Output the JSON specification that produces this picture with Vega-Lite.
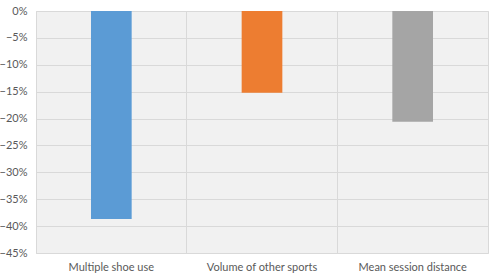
{
  "$schema": "https://vega.github.io/schema/vega-lite/v6.json",
  "autosize": {"type": "none"},
  "padding": {"left": 36, "top": 11, "right": 12, "bottom": 26},
  "width": 452,
  "height": 242,
  "background": "white",
  "config": {
    "view": {"stroke": "#d9d9d9", "fill": "#f1f1f1"},
    "font": "Lato"
  },
  "data": {
    "values": [
      {"factor": "Multiple shoe use", "change": -0.387},
      {"factor": "Volume of other sports", "change": -0.152},
      {"factor": "Mean session distance", "change": -0.206}
    ]
  },
  "mark": {"type": "bar", "width": {"band": 0.27}},
  "encoding": {
    "x": {
      "field": "factor",
      "type": "nominal",
      "sort": null,
      "scale": {"paddingInner": 0, "paddingOuter": 0},
      "axis": {
        "title": null,
        "labelAngle": 0,
        "domain": false,
        "ticks": false,
        "grid": true,
        "bandPosition": 0,
        "gridColor": "#d9d9d9",
        "labelColor": "#595959",
        "labelFontSize": 11,
        "labelPadding": 8
      }
    },
    "y": {
      "field": "change",
      "type": "quantitative",
      "scale": {"domain": [-0.45, 0], "nice": false},
      "axis": {
        "title": null,
        "values": [0, -0.05, -0.1, -0.15, -0.2, -0.25, -0.3, -0.35, -0.4, -0.45],
        "format": ".0%",
        "domain": false,
        "ticks": false,
        "gridColor": "#d9d9d9",
        "labelColor": "#595959",
        "labelFontSize": 11,
        "labelPadding": 9
      }
    },
    "color": {
      "field": "factor",
      "type": "nominal",
      "sort": null,
      "scale": {"range": ["#5B9BD5", "#ED7D31", "#A5A5A5"]},
      "legend": null
    }
  }
}
